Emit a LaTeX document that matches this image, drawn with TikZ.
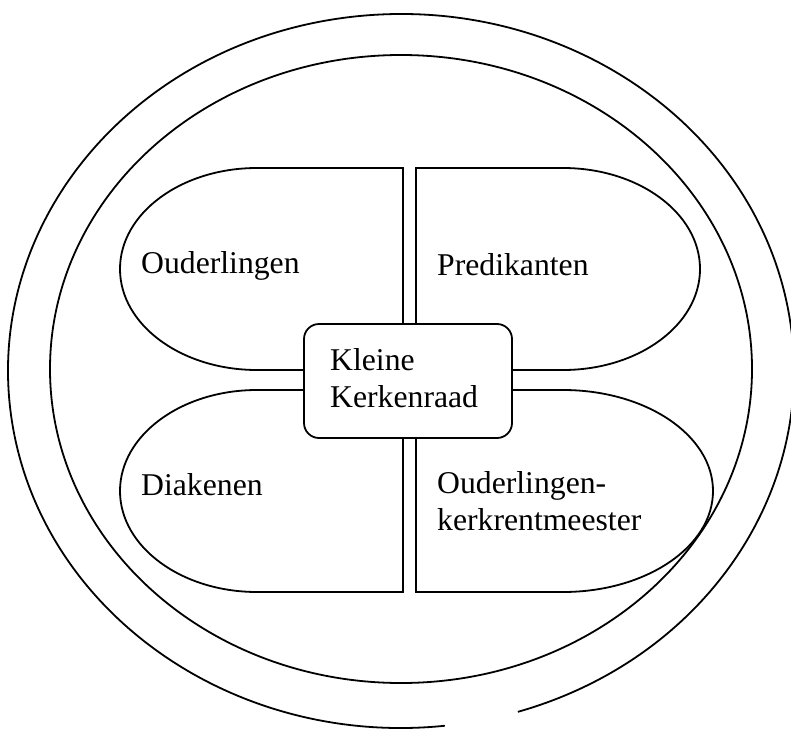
\documentclass[tikz,border=0pt]{standalone}
\usepackage{fontspec}
\setmainfont{Liberation Serif}
\begin{document}
\begin{tikzpicture}[x=1pt,y=-1pt,
  ring/.style={draw=black, line width=1.8pt},
  dshape/.style={draw=black, line width=1.8pt},
  centerbox/.style={draw=black, line width=1.8pt, fill=white, rounded corners=15pt, inner sep=0pt},
  lbl/.style={font=\fontsize{31.7}{37}\selectfont, inner sep=0pt, anchor=base west, align=left}]
\useasboundingbox (0,0) rectangle (791,730);
% rings
\coordinate (oc) at (401,371);
\coordinate (ic) at (401,369);
\draw[ring] (oc) ++(83.6:393 and 357) arc[start angle=83.6, end angle=432.7, x radius=393, y radius=357];
\draw[ring] (ic) ellipse[x radius=351, y radius=314];
% four shapes
\draw[dshape] (403,168) -- (257,168) arc[start angle=270, end angle=90, x radius=137, y radius=101] -- (403,370) -- cycle;
\draw[dshape] (416,168) -- (563,168) arc[start angle=270, end angle=450, x radius=137, y radius=101] -- (416,370) -- cycle;
\draw[dshape] (403,390) -- (257,390) arc[start angle=270, end angle=90, x radius=137, y radius=101] -- (403,592) -- cycle;
\draw[dshape] (416,390) -- (563,390) arc[start angle=270, end angle=450, x radius=150, y radius=101] -- (416,592) -- cycle;
% center box
\node[centerbox, minimum width=208pt, minimum height=114pt] (kr) at (408,381) {};
% labels (base anchor of a two-line node is the last line's baseline)
\node[lbl] (oud) at (141,273) {Ouderlingen};
\node[lbl] (pred) at (437,275) {Predikanten};
\node[lbl] (diak) at (141,495) {Diakenen};
\node[lbl] (okm) at (437,530) {Ouderlingen-\\kerkrentmeester};
\node[lbl] (krt) at (330,407) {Kleine\\Kerkenraad};
\end{tikzpicture}
\end{document}
